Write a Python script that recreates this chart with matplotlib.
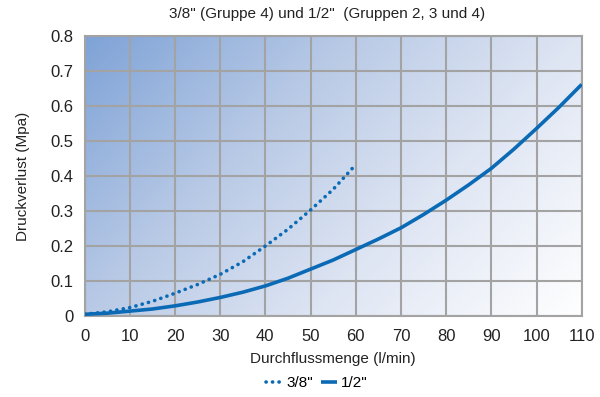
import matplotlib
matplotlib.use("Agg")
import matplotlib.pyplot as plt
import numpy as np
from matplotlib.colors import LinearSegmentedColormap

plt.rcParams['font.family'] = ['Liberation Sans', 'DejaVu Sans']

# Durchfluss (l/min) und Druckverlust (MPa)
flow_half = [0, 5, 10, 15, 20, 25, 30, 35, 40, 45, 50, 55, 60, 65, 70, 75, 80,
             85, 90, 95, 100, 105, 110]
loss_half = [0.005, 0.008, 0.014, 0.020, 0.029, 0.040, 0.053, 0.068, 0.086,
             0.108, 0.134, 0.160, 0.190, 0.220, 0.252, 0.290, 0.331, 0.375,
             0.422, 0.477, 0.536, 0.597, 0.662]

flow_38 = [0, 5, 10, 15, 20, 25, 30, 35, 40, 45, 50, 55, 59.6]
loss_38 = [0.005, 0.012, 0.024, 0.042, 0.065, 0.090, 0.119, 0.155, 0.200,
           0.248, 0.303, 0.362, 0.427]

x_ticks = list(range(0, 111, 10))
y_ticks = [0, 0.1, 0.2, 0.3, 0.4, 0.5, 0.6, 0.7, 0.8]

blue = '#0b6ab5'
grid_gray = '#a3a3a3'

fig = plt.figure(figsize=(6, 3.97), dpi=100)
ax = fig.add_axes([0.141, 0.204, 0.8285, 0.705])

# Hintergrund: Verlauf von blau (oben links) nach weiss (unten rechts)
cmap = LinearSegmentedColormap.from_list(
    'bg', [(0.0, '#7fa3d7'), (0.35, '#b9cae6'), (0.65, '#dee5f3'),
           (1.0, '#ffffff')])
gx, gy = np.meshgrid(np.linspace(0, 1, 300), np.linspace(0, 1, 200))
grad = 0.65 * gx + 0.35 * gy
ax.imshow(grad, cmap=cmap, extent=[0, 110, 0, 0.8], origin='upper',
          aspect='auto', zorder=0, interpolation='bilinear')

ax.set_xlim(0, 110)
ax.set_ylim(0, 0.8)
ax.set_xticks(x_ticks)
ax.set_yticks(y_ticks)
ax.set_xticklabels([str(v) for v in x_ticks])
ax.set_yticklabels(['0'] + ['%.1f' % v for v in y_ticks[1:]])
ax.tick_params(length=0, labelsize=12, colors='#222222')
ax.tick_params(axis='x', pad=9)
ax.tick_params(axis='y', pad=8)
ax.grid(True, color=grid_gray, linewidth=1.5)
ax.set_axisbelow(False)
for s in ax.spines.values():
    s.set_color(grid_gray)
    s.set_linewidth(1.5)

ax.plot(flow_38, loss_38, color=blue, linewidth=2.6,
        linestyle=(0, (0.05, 1.75)), dash_capstyle='round',
        label='3/8"', zorder=3)
ax.plot(flow_half, loss_half, color=blue, linewidth=2.6,
        solid_capstyle='butt', label='1/2"', zorder=3)

ax.set_xlabel('Durchflussmenge (l/min)', fontsize=11, color='#222222',
              labelpad=6)
ax.set_ylabel('Druckverlust (Mpa)', fontsize=11, color='#222222',
              labelpad=15)
fig.text(0.545, 0.965, '3/8" (Gruppe 4) und 1/2"  (Gruppen 2, 3 und 4)',
         ha='center', va='center', fontsize=11, color='#222222')

fig.legend(loc='lower center', bbox_to_anchor=(0.528, -0.018), ncol=2,
           frameon=False, fontsize=11, handlelength=1.1, handletextpad=0.25,
           columnspacing=0.5)

fig.savefig('out.png', dpi=100)
